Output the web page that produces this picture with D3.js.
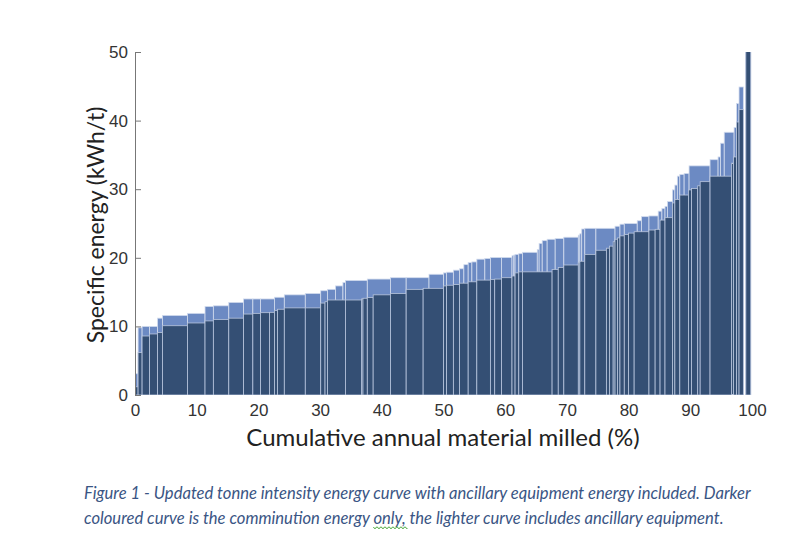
<!DOCTYPE html>
<html><head><meta charset="utf-8">
<script src="https://cdn.jsdelivr.net/npm/d3@7"></script>
<style>body{margin:0;background:#fff}</style></head>
<body>
<svg id="c" width="800" height="557"></svg>
<script>
// Comminution-only curve: share of annual material milled (%) and specific energy (kWh/t)
const darkShare = [0.5,0.65,1.2,1.3,0.8,4.05,2.85,1.35,2.5,2.4,1.5,1.25,1.45,0.8,0.5,1.1,3.4,2.5,0.7,0.4,2.9,2.6,0.25,0.7,0.95,2.8,2.55,2.75,3.3,0.5,1.1,1.0,1.4,1.4,2.2,0.7,1.1,1.7,0.5,0.6,0.6,4.8,1.0,0.9,2.35,0.25,0.8,1.8,1.7,0.5,0.6,0.3,0.4,0.4,0.7,0.7,0.9,2.4,1.0,0.8,0.8,1.2,0.4,0.8,1.4,0.5,1.0,0.4,1.6,3.5,0.3,0.5,0.4,0.7,0.4,0.8];
const darkEnergy = [1.2,6.2,8.6,8.9,9.1,10.1,10.5,10.8,11.0,11.2,11.8,11.9,12.0,12.05,12.3,12.5,12.7,12.7,13.4,13.6,13.85,13.85,14.0,14.1,14.2,14.6,14.8,15.4,15.55,15.9,16.0,16.1,16.3,16.5,16.75,16.85,16.9,17.1,17.35,17.8,17.95,17.95,18.3,18.6,18.95,19.3,19.5,20.5,21.1,21.4,21.7,22.35,22.7,22.9,23.2,23.4,23.6,23.8,24.05,24.15,25.5,25.85,28.0,28.5,29.15,29.9,30.1,30.5,31.1,31.9,33.8,34.7,39.8,41.6,null,58];
// Comminution + ancillary equipment curve
const lightShare = [0.5,0.65,1.2,1.3,0.8,4.05,2.85,1.35,2.5,2.4,1.5,1.25,2.25,1.6,3.4,2.5,1.1,1.3,1.2,0.4,3.55,3.75,2.55,3.7,2.35,0.5,1.1,1.0,0.7,0.7,0.6,0.8,1.3,0.9,1.8,1.7,0.3,0.2,0.6,0.6,2.4,0.3,0.5,0.8,1.3,1.4,2.35,0.25,0.3,0.5,1.8,3.1,0.8,0.7,2.1,0.7,1.2,1.5,0.6,0.5,0.4,0.8,0.4,0.4,0.4,0.7,0.8,3.4,1.3,0.4,0.6,1.6,0.4,0.4,0.7,0.4,0.8];
const lightEnergy = [3.1,9.8,10.0,10.0,11.2,11.6,11.9,12.9,13.0,13.5,14.0,14.0,14.0,14.25,14.6,14.8,15.2,15.4,15.9,16.4,16.7,16.9,17.1,17.1,17.6,17.8,17.9,18.2,18.4,19.0,19.3,19.4,19.8,19.9,20.05,20.05,20.3,20.4,20.5,20.6,20.8,21.2,22.1,22.5,22.7,22.8,23.0,23.3,23.5,24.2,24.3,24.3,24.6,24.9,25.0,25.4,26.0,26.1,26.8,27.2,27.5,28.2,29.9,30.6,31.9,32.15,32.3,33.4,34.3,34.7,36.7,38.3,39.0,42.5,44.9,null,60];
const xTicks = [0,10,20,30,40,50,60,70,80,90,100];
const yTicks = [0,10,20,30,40,50];
const xTitle = "Cumulative annual material milled (%)";
const yTitle = "Specific energy (kWh/t)";
const captionLine1 = "Figure 1 - Updated tonne intensity energy curve with ancillary equipment energy included. Darker";
const captionLine2 = ["coloured curve is the comminution energy ", "only,", " the lighter curve includes ancillary equipment."];

const svg = d3.select("#c");
const x = d3.scaleLinear().domain([0,100]).range([135,752]);
const y = d3.scaleLinear().domain([0,50]).range([395,52]);

svg.append("defs").append("clipPath").attr("id","plot")
  .append("rect").attr("x",x(0)).attr("y",y(50)).attr("width",x(100)-x(0)+2).attr("height",y(0)-y(50));

function bars(share, energy){
  const ends = d3.cumsum(share);
  return share.map((w,i)=>({x0: ends[i]-w, x1: ends[i], v: energy[i]})).filter(d=>d.v!=null);
}
const g = svg.append("g").attr("clip-path","url(#plot)");
g.selectAll("rect.light").data(bars(lightShare, lightEnergy)).join("rect")
  .attr("class","light")
  .attr("x",d=>x(d.x0)).attr("width",d=>x(d.x1)-x(d.x0))
  .attr("y",d=>y(d.v)).attr("height",d=>y(0)-y(d.v))
  .attr("fill","#6c8ac3").attr("stroke","#d3dcee").attr("stroke-width",0.8);
g.selectAll("rect.dark").data(bars(darkShare, darkEnergy)).join("rect")
  .attr("class","dark")
  .attr("x",d=>x(d.x0)).attr("width",d=>x(d.x1)-x(d.x0))
  .attr("y",d=>y(d.v)).attr("height",d=>y(0)-y(d.v))
  .attr("fill","#344f74").attr("stroke","#b9c6de").attr("stroke-width",0.8);

// y axis (inner ticks)
const ya = svg.append("g").attr("transform",`translate(${x(0)},0)`)
  .call(d3.axisLeft(y).tickValues(yTicks).tickSize(-6).tickPadding(7).tickSizeOuter(0));
ya.select(".domain").attr("stroke","#777");
ya.selectAll(".tick line").attr("stroke","#777");
ya.selectAll("text").attr("font-family","Liberation Sans, Arial, sans-serif").attr("font-size",17).attr("fill","#333");

// x axis labels only
const xa = svg.append("g").attr("transform",`translate(0,${y(0)})`)
  .call(d3.axisBottom(x).tickValues(xTicks).tickSize(0).tickPadding(9));
xa.select(".domain").remove();
xa.selectAll("text").attr("font-family","Liberation Sans, Arial, sans-serif").attr("font-size",17).attr("fill","#333");

svg.append("text").attr("x",443).attr("y",446).attr("text-anchor","middle")
  .attr("font-family","Lato, sans-serif").attr("font-size",24).attr("fill","#222").text(xTitle);
svg.append("text").attr("transform","translate(104,225) rotate(-90)").attr("text-anchor","middle")
  .attr("font-family","Lato, sans-serif").attr("font-size",23).attr("fill","#222").text(yTitle);

const cap = {"font-family":"Lato, sans-serif","font-size":16.6,"font-style":"italic","fill":"#3a5584"};
const t1 = svg.append("text").attr("x",84).attr("y",499).text(captionLine1);
const t2 = svg.append("text").attr("x",84).attr("y",524);
Object.entries(cap).forEach(([k,v])=>{t1.attr(k,v);t2.attr(k,v);});
t2.selectAll("tspan").data(captionLine2).join("tspan").text(d=>d);
const squiggle = svg.append("path").attr("fill","none").attr("stroke","#3aa02a").attr("stroke-width",0.9);
function placeSquiggle(){
  const n2 = t2.node();
  const i0 = captionLine2[0].length, i1 = i0 + captionLine2[1].length - 1;
  const sx = n2.getStartPositionOfChar(i0).x;
  const ex = n2.getEndPositionOfChar(i1).x;
  let p = "M"+sx+",527";
  for(let k=0; sx + k*2 < ex; k++){ p += " l1,"+((k%2)?-1.5:1.5)+" l1,0"; }
  squiggle.attr("d",p);
}
placeSquiggle();
if (document.fonts && document.fonts.ready) document.fonts.ready.then(placeSquiggle);
</script>
</body></html>
